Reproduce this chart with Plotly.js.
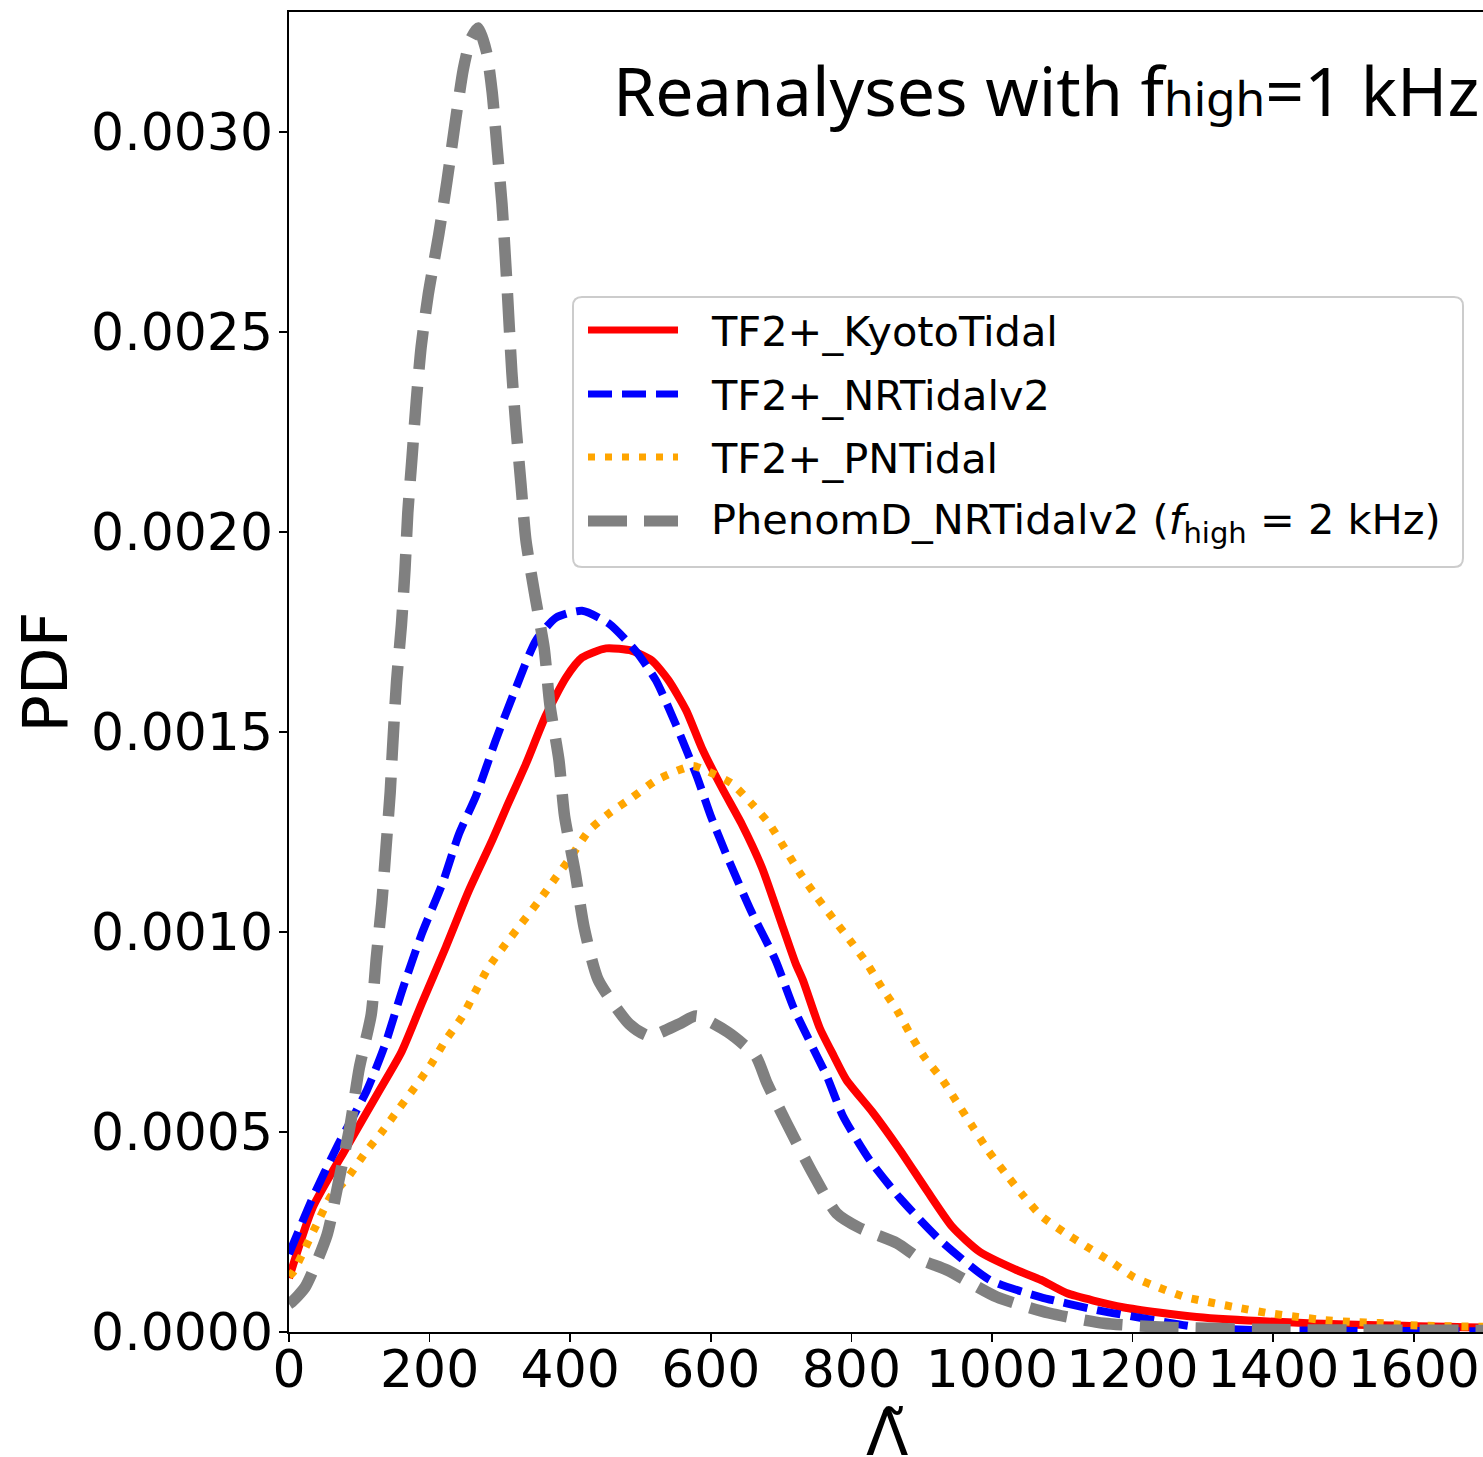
<!DOCTYPE html>
<html>
<head>
<meta charset="utf-8">
<script src="https://cdn.plot.ly/plotly-3.0.1.min.js"></script>
<style>
  html, body { margin: 0; padding: 0; overflow: hidden; background: #ffffff; }
  #chart { width: 1486px; height: 1457px; }
</style>
</head>
<body>
<div id="chart"></div>
<script>
// ---- Data ----
const seriesNames = [
  "TF2+_KyotoTidal",
  "TF2+_NRTidalv2",
  "TF2+_PNTidal",
  "PhenomD_NRTidalv2 (<i>f</i><sub>high</sub> = 2 kHz)"
];

const kyotoX = [0, 34, 82, 129, 160, 189, 223, 256, 289, 309, 337, 365, 394, 417, 451, 488, 516, 540, 565, 587, 616, 644, 673, 701, 721, 731, 755, 775, 793, 830, 869, 907, 944, 983, 1035, 1070, 1106, 1186, 1291, 1450, 1700];
const kyotoY = [0.000135, 0.000312, 0.000462, 0.000605, 0.000700, 0.000822, 0.000962, 0.001104, 0.001229, 0.00131, 0.00142, 0.00154, 0.001636, 0.001686, 0.001709, 0.001703, 0.001679, 0.001629, 0.001554, 0.001461, 0.00136, 0.00127, 0.00116, 0.00102, 0.00092, 0.00088, 0.00076, 0.00069, 0.00063, 0.00055, 0.000455, 0.000355, 0.000262, 0.000200, 0.000155, 0.000130, 0.0000974, 0.000062, 0.0000375, 0.000022, 0.000011];

const nrX = [0, 34, 68, 111, 137, 161, 189, 218, 242, 266, 294, 323, 351, 380, 417, 455, 493, 522, 550, 580, 600, 623, 658, 692, 718, 751, 765, 788, 826, 869, 926, 997, 1069, 1149, 1229, 1291, 1371, 1700];
const nrY = [0.000195, 0.000337, 0.000462, 0.000605, 0.000720, 0.000854, 0.000996, 0.00112, 0.001246, 0.00134, 0.001479, 0.001611, 0.001728, 0.001786, 0.001803, 0.001771, 0.001703, 0.001629, 0.00152, 0.00139, 0.00129, 0.00119, 0.00105, 0.00093, 0.00081, 0.00069, 0.00064, 0.00054, 0.00043, 0.000335, 0.00023, 0.00013, 0.0000874, 0.000055, 0.00003, 0.0000125, 0.000005, 0.000002];

const pnX = [0, 6, 23, 41, 58, 84, 108, 132, 155, 179, 203, 223, 246, 266, 284, 309, 331, 356, 380, 398, 427, 455, 488, 522, 555, 575, 593, 630, 658, 683, 707, 727, 751, 774, 798, 822, 843, 865, 883, 904, 929, 951, 973, 994, 1019, 1044, 1069, 1102, 1136, 1170, 1202, 1239, 1275, 1315, 1352, 1392, 1435, 1472, 1513, 1551, 1589, 1630, 1700];
const pnY = [0.00014, 0.00015, 0.00021, 0.000275, 0.000335, 0.000387, 0.000447, 0.0005, 0.000555, 0.000612, 0.000672, 0.00073, 0.000787, 0.000854, 0.000912, 0.000972, 0.001022, 0.001079, 0.001137, 0.00118, 0.001254, 0.001296, 0.001336, 0.001379, 0.001405, 0.001415, 0.001404, 0.001371, 0.001321, 0.001271, 0.001204, 0.001147, 0.001087, 0.001034, 0.000979, 0.000922, 0.000862, 0.000804, 0.000747, 0.000687, 0.000632, 0.000572, 0.000512, 0.000455, 0.000397, 0.000342, 0.000292, 0.00025, 0.000212, 0.000175, 0.000137, 0.00011, 0.0000874, 0.0000724, 0.00006, 0.0000475, 0.0000375, 0.00003, 0.000025, 0.0000225, 0.0000175, 0.000015, 0.000013];

const phenomX = [0, 4, 23, 54, 71, 87, 100, 117, 124, 132, 138, 144, 147, 153, 160, 165, 169, 175, 181, 188, 198, 213, 225, 236, 248, 258, 269, 281, 289, 296, 303, 310, 317, 323, 330, 337, 350, 363, 371, 384, 392, 407, 420, 440, 484, 512, 555, 579, 624, 664, 680, 708, 745, 779, 812, 865, 900, 936, 1007, 1081, 1159, 1239, 1400, 1700];
const phenomY = [0.00007, 0.000075, 0.000112, 0.000242, 0.00038, 0.000517, 0.00066, 0.000794, 0.000932, 0.001072, 0.001211, 0.00135, 0.00145, 0.001626, 0.001769, 0.001906, 0.002048, 0.002186, 0.002326, 0.002463, 0.002593, 0.002743, 0.00288, 0.003018, 0.003157, 0.00323, 0.00326, 0.0032, 0.0031, 0.00296, 0.00282, 0.00262, 0.0024, 0.00226, 0.00212, 0.00198, 0.00184, 0.00171, 0.00157, 0.00143, 0.00129, 0.00115, 0.00101, 0.00088, 0.00077, 0.00074, 0.00077, 0.00079, 0.00075, 0.00069, 0.000622, 0.000522, 0.000397, 0.000297, 0.00026, 0.000222, 0.00018, 0.000155, 0.0000874, 0.0000475, 0.000022, 0.0000125, 0.000006, 0.000004];

const yTickVals = [0, 0.0005, 0.0010, 0.0015, 0.0020, 0.0025, 0.0030];
const yTickText = ["0.0000", "0.0005", "0.0010", "0.0015", "0.0020", "0.0025", "0.0030"];
const xTickVals = [0, 200, 400, 600, 800, 1000, 1200, 1400, 1600];
const xTickText = ["0", "200", "400", "600", "800", "1000", "1200", "1400", "1600"];

const titleText = "Reanalyses with f<span style=\"font-size:48px\">high</span>=1 kHz";
const xTitle = "\u039B\u0303";
const yTitle = "PDF";

// ---- Styles ----
const FONT = "DejaVu Sans, sans-serif";
const styles = [
  { color: "#ff0000", width: 8, dash: "solid" },
  { color: "#0000ff", width: 8, dash: "24px,10px" },
  { color: "#ffa500", width: 8, dash: "7px,10px" },
  { color: "#808080", width: 11.5, dash: "39px,17px" }
];

// plot-area geometry (pixels) used only to place the hand-drawn legend box and labels
const M = { l: 289, r: 2, t: 12, b: 125 };
const W = 1486, H = 1457;
const PW = W - M.l - M.r, PH = H - M.t - M.b;
const px = v => (v - M.l) / PW;
const py = v => (H - M.b - v) / PH;

const dataSets = [[kyotoX, kyotoY], [nrX, nrY], [pnX, pnY], [phenomX, phenomY]];
const traces = dataSets.map((d, i) => ({
  type: "scatter", mode: "lines", x: d[0], y: d[1], name: seriesNames[i],
  showlegend: false, hoverinfo: "skip",
  line: Object.assign({ shape: "spline", smoothing: 0.6 }, styles[i])
}));

// ---- Legend (drawn as shapes + text) ----
const legBox = { x0: 573, x1: 1463, y0: 297, y1: 567, r: 9 };
const rowY = [330, 394, 457, 521];
function roundRectPath(b) {
  const rx = b.r / PW, ry = b.r / PH;
  const x0 = px(b.x0), x1 = px(b.x1), yT = py(b.y0), yB = py(b.y1);
  return `M${x0 + rx},${yT} L${x1 - rx},${yT} Q${x1},${yT} ${x1},${yT - ry} ` +
         `L${x1},${yB + ry} Q${x1},${yB} ${x1 - rx},${yB} L${x0 + rx},${yB} ` +
         `Q${x0},${yB} ${x0},${yB + ry} L${x0},${yT - ry} Q${x0},${yT} ${x0 + rx},${yT} Z`;
}
const shapes = [
  { type: "path", xref: "paper", yref: "paper", layer: "above",
    path: roundRectPath(legBox),
    fillcolor: "rgba(255,255,255,0.8)", line: { color: "#cccccc", width: 2 } }
];
rowY.forEach((y, i) => {
  shapes.push({
    type: "line", xref: "paper", yref: "paper", layer: "above",
    x0: px(588), x1: px(678), y0: py(y), y1: py(y),
    line: { color: styles[i].color, width: i === 3 ? 11 : 7, dash: styles[i].dash }
  });
});

const annotations = rowY.map((y, i) => ({
  xref: "paper", yref: "paper", x: px(709), y: py(y + 1),
  xanchor: "left", yanchor: "middle", showarrow: false,
  text: seriesNames[i],
  font: { family: FONT, size: 41.5, color: "#000000" }
}));

// chart title inside the plot area
annotations.push({
  xref: "paper", yref: "paper",
  x: px(611), y: py(41), xanchor: "left", yanchor: "top",
  text: titleText, showarrow: false,
  font: { family: "Noto Sans, sans-serif", size: 68, color: "#000000" }
});

// x-axis title (placed as text so it can sit where the reference has it)
annotations.push({
  xref: "paper", yref: "paper",
  x: 0.5, y: py(1395), xanchor: "center", yanchor: "top",
  text: xTitle, showarrow: false,
  font: { family: FONT, size: 62, color: "#000000" }
});

const layout = {
  width: W,
  height: H,
  margin: { l: M.l, r: M.r, t: M.t, b: M.b, pad: 0 },
  paper_bgcolor: "#ffffff",
  plot_bgcolor: "#ffffff",
  font: { family: FONT, color: "#000000", size: 52 },
  showlegend: false,
  xaxis: {
    range: [0, 1700],
    tickmode: "array", tickvals: xTickVals, ticktext: xTickText,
    tickangle: 0,
    ticks: "outside", ticklen: 8, tickwidth: 1.6, tickcolor: "#000000",
    ticklabelstandoff: -17,
    showline: true, linecolor: "#000000", linewidth: 1.6, mirror: true,
    showgrid: false, zeroline: false,
    tickfont: { family: FONT, size: 52, color: "#000000" }
  },
  yaxis: {
    range: [0, 0.0033],
    tickmode: "array", tickvals: yTickVals, ticktext: yTickText,
    ticks: "outside", ticklen: 8, tickwidth: 1.6, tickcolor: "#000000",
    ticklabelstandoff: -4,
    showline: true, linecolor: "#000000", linewidth: 1.6, mirror: true,
    showgrid: false, zeroline: false,
    tickfont: { family: FONT, size: 52, color: "#000000" },
    title: { text: yTitle, font: { family: FONT, size: 62, color: "#000000" }, standoff: 3 }
  },
  shapes: shapes,
  annotations: annotations
};

Plotly.newPlot("chart", traces, layout, { displayModeBar: false, staticPlot: true });
</script>
</body>
</html>
